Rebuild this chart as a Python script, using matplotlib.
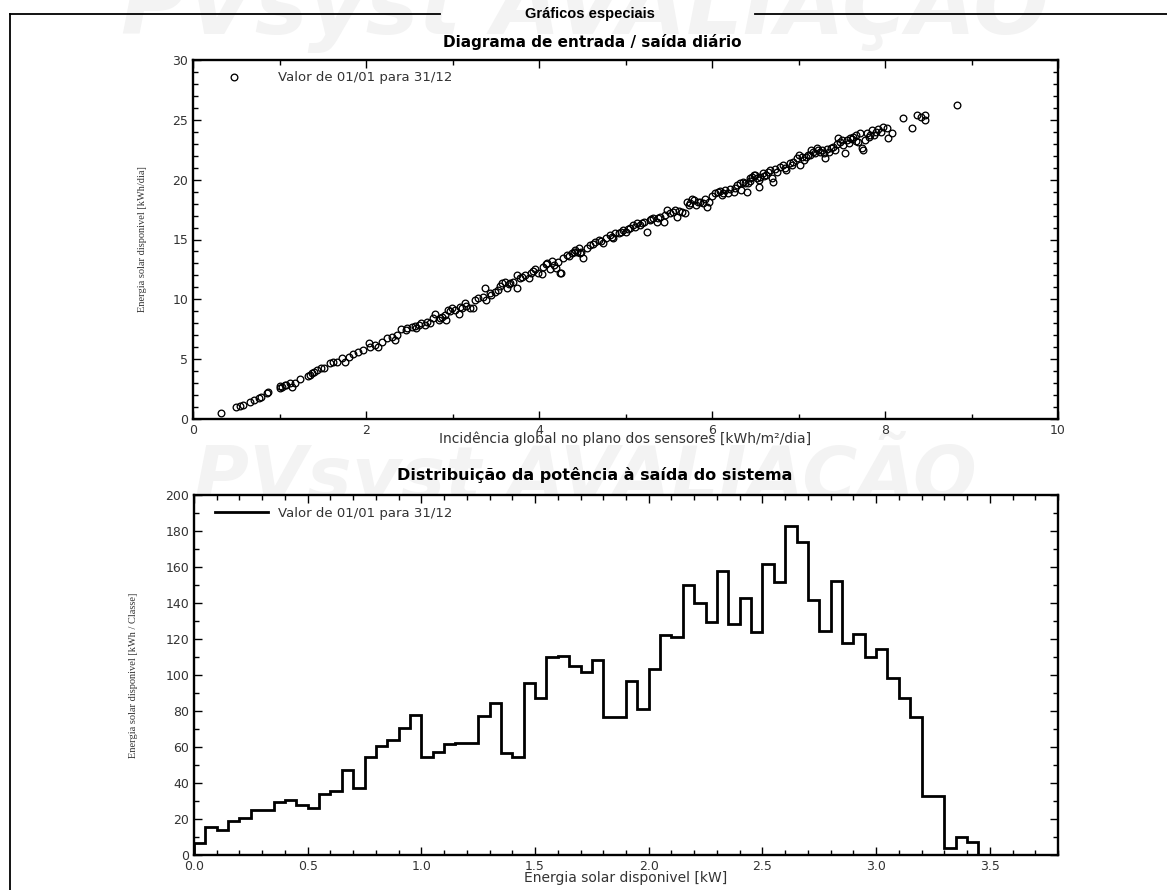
import numpy as np
import matplotlib
matplotlib.use("Agg")
import matplotlib.pyplot as plt
from matplotlib.ticker import MultipleLocator, FormatStrFormatter
from matplotlib.lines import Line2D

# ---------------- data ----------------
daily_incidence = [
    0.32, 0.50, 0.54, 0.58, 0.66, 0.71, 0.76, 0.79, 0.85, 0.87, 1.00, 1.01, 1.03, 1.06, 1.08, 1.12,
    1.14, 1.18, 1.24, 1.33, 1.35, 1.37, 1.40, 1.43, 1.48, 1.51, 1.58, 1.62, 1.66, 1.72, 1.76, 1.80,
    1.85, 1.91, 1.97, 2.03, 2.05, 2.10, 2.14, 2.18,
    2.24, 2.30, 2.34, 2.36, 2.41, 2.47, 2.53, 2.57, 2.61, 2.64, 2.68, 2.74, 2.78, 2.80, 2.84, 2.88,
    2.91, 2.93, 2.95, 2.99, 3.03, 3.07, 3.09, 3.15, 3.16, 3.20, 3.24,
    3.26, 3.30, 3.35, 3.37, 3.39, 3.43, 3.49, 3.53, 3.57, 3.61, 3.63, 3.67, 3.70, 3.74, 3.74, 3.78,
    3.84, 3.88, 3.91, 3.95, 3.99, 4.03, 4.05, 4.09, 4.13, 4.17, 4.20, 4.24, 4.28, 4.32, 4.38, 4.44,
    2.46, 2.58, 2.70, 2.86, 2.97, 3.11, 3.45, 3.55, 3.65, 3.80, 3.93, 4.08, 4.15, 4.22, 4.35,
    4.26, 4.42, 4.46, 4.47, 4.51, 4.49, 4.55, 4.59, 4.65, 4.69, 4.74, 4.78, 4.82, 4.86, 4.88, 4.92,
    4.97, 5.01, 5.05, 5.09, 5.13, 5.17, 5.21, 5.25, 5.28, 5.32, 5.36, 5.40, 5.44, 5.48, 5.52, 5.55,
    5.59, 5.65, 5.69, 5.71, 5.75, 5.79, 5.82, 5.86, 5.90, 5.94, 5.96, 6.03, 6.07, 6.11, 6.15, 6.19,
    6.25, 6.29, 6.32, 6.36, 6.40, 6.42, 6.46, 6.50, 6.54,
    4.40, 4.62, 4.72, 4.84, 4.95, 5.03, 5.11, 5.19, 5.30, 5.38, 5.46, 5.57, 5.62, 5.73, 5.77, 5.84,
    5.92, 6.00, 6.09, 6.13, 6.21, 6.27, 6.44, 6.52,
    6.34, 6.38, 6.44, 6.48, 6.54, 6.56, 6.59, 6.63, 6.67, 6.69, 6.71, 6.75, 6.79, 6.82, 6.86, 6.90,
    6.94, 6.98, 7.00, 7.02, 7.06, 7.09, 7.13, 7.15, 7.19, 7.21, 7.25, 7.29, 7.31, 7.35, 7.38, 7.42,
    7.46, 7.48, 7.52, 7.54, 7.56, 7.60, 7.63, 7.67, 7.69, 7.71, 7.73, 7.75, 7.77, 7.81, 7.85, 7.87,
    7.90, 7.98, 8.02, 8.04, 8.08, 8.21, 8.31, 8.37, 8.42, 8.46, 8.46, 8.83,
    6.60, 6.65, 6.73, 6.84, 6.92, 7.04, 7.11, 7.17, 7.23, 7.27, 7.33, 7.40, 7.44, 7.50, 7.58, 7.62,
    7.66, 7.79, 7.83, 7.92, 7.95,
]
daily_energy = [
    0.47, 1.03, 1.09, 1.17, 1.45, 1.59, 1.73, 1.80, 2.14, 2.23, 2.62, 2.76, 2.70, 2.80, 2.84, 2.98,
    2.70, 2.98, 3.31, 3.62, 3.68, 3.82, 3.95, 4.09, 4.23, 4.29, 4.65, 4.74, 4.79, 5.07, 4.79, 5.21,
    5.43, 5.60, 5.77, 6.32, 6.00, 6.18, 6.04, 6.46,
    6.74, 6.88, 6.60, 7.02, 7.49, 7.58, 7.66, 7.77, 7.86, 8.00, 7.86, 8.05, 8.41, 8.77, 8.27, 8.49,
    8.69, 8.27, 9.11, 9.25, 9.11, 8.77, 9.39, 9.67, 9.44, 9.25, 9.25,
    9.94, 10.08, 10.22, 10.92, 9.94, 10.50, 10.64, 10.78, 11.34, 11.48, 10.92, 11.34, 11.48, 12.03, 10.92, 11.76,
    12.03, 11.76, 12.17, 12.51, 12.17, 12.12, 12.73, 13.01, 12.51, 12.87, 12.59, 12.23, 13.43, 13.71, 13.85, 13.99,
    7.45, 7.62, 8.12, 8.40, 9.00, 9.30, 10.40, 11.15, 11.25, 11.90, 12.35, 12.95, 13.20, 13.10, 13.60,
    12.17, 14.12, 14.26, 13.85, 13.43, 13.99, 14.26, 14.54, 14.82, 14.96, 14.68, 15.10, 15.38, 15.10, 15.52, 15.57,
    15.79, 15.65, 15.93, 16.21, 16.35, 16.21, 16.49, 15.65, 16.63, 16.77, 16.49, 16.91, 16.49, 17.46, 17.19, 17.32,
    16.91, 17.32, 17.19, 18.16, 18.02, 18.30, 17.88, 18.16, 18.02, 17.74, 18.16, 18.86, 19.00, 18.72, 19.14, 18.86,
    19.00, 19.55, 19.69, 19.83, 19.00, 19.69, 20.25, 20.39, 19.97,
    13.95, 14.60, 14.90, 15.25, 15.60, 15.85, 16.05, 16.40, 16.70, 16.80, 17.05, 17.50, 17.40, 17.90, 18.40, 18.10,
    18.35, 18.60, 19.05, 18.90, 19.20, 19.30, 19.90, 20.10,
    19.14, 19.69, 20.11, 20.39, 19.41, 20.25, 20.53, 20.39, 20.81, 20.11, 19.83, 20.67, 21.09, 21.23, 20.81, 21.36,
    21.50, 21.78, 22.06, 21.23, 21.64, 21.92, 22.06, 22.48, 22.20, 22.62, 22.34, 22.20, 21.78, 22.34, 22.62, 22.48,
    23.45, 23.18, 22.90, 22.20, 23.31, 23.45, 23.59, 23.73, 23.18, 23.87, 22.62, 22.48, 23.31, 23.59, 24.15, 23.73,
    24.01, 24.43, 24.29, 23.45, 23.87, 25.12, 24.29, 25.40, 25.26, 24.99, 25.40, 26.23,
    20.30, 20.60, 20.90, 21.00, 21.20, 21.90, 22.10, 22.30, 22.50, 22.45, 22.55, 22.70, 23.00, 23.30, 23.10, 23.40,
    23.25, 23.90, 23.70, 24.20, 23.95,
]

bin_width_kw = 0.05
power_class_energy = [
    6.5, 15.4, 13.9, 18.9, 20.7, 25.0, 25.0, 29.6, 30.5, 27.8, 25.9, 33.7, 35.7, 47.2, 37.0, 54.6,
    60.6, 63.9, 70.7, 77.8, 54.3, 57.0, 61.7, 62.4, 62.4, 77.4, 84.6, 56.5, 54.3, 95.7, 87.0, 109.8,
    110.6, 105.2, 101.9, 108.1, 76.5, 76.9, 96.7, 81.3, 103.1, 122.4, 121.3, 150.0, 139.8, 129.3, 157.8, 128.1,
    143.0, 123.7, 161.5, 151.5, 183.0, 173.7, 141.7, 124.6, 152.4, 118.0, 122.8, 110.2, 114.6, 98.1, 87.4, 76.5,
    32.8, 32.8, 3.7, 10.2, 7.4,
]
bin_edges = np.round(np.arange(len(power_class_energy) + 1) * bin_width_kw, 3)

legend_label = "Valor de 01/01 para 31/12"
section_title = "Gráficos especiais"
title_top = "Diagrama de entrada / saída diário"
title_bottom = "Distribuição da potência à saída do sistema"
xlabel_top = "Incidência global no plano dos sensores [kWh/m²/dia]"
ylabel_top = "Energia solar disponivel [kWh/dia]"
xlabel_bottom = "Energia solar disponivel [kW]"
ylabel_bottom = "Energia solar disponivel [kWh / Classe]"
watermark = "PVsyst AVALIAÇÃO"

# ---------------- figure ----------------
W, H = 1167, 890
fig = plt.figure(figsize=(W / 100, H / 100), dpi=100)
fig.patch.set_facecolor("white")

def fx(px):
    return px / W

def fy(py):
    return 1 - py / H

# faint watermarks (behind the axes)
fig.text(fx(585), fy(34), watermark, ha="center", va="baseline",
         fontsize=64, fontweight="bold", fontstyle="italic",
         family="DejaVu Sans", color="#f3f3f3", zorder=-5)
fig.text(fx(585), fy(500), watermark, ha="center", va="baseline",
         fontsize=54, fontweight="bold", fontstyle="italic",
         family="DejaVu Sans", color="#f3f3f3", zorder=-5)

# outer frame lines
fig.add_artist(Line2D([fx(10), fx(10)], [fy(14), 0], color="black", lw=1.3))
fig.add_artist(Line2D([fx(10), fx(440)], [fy(14), fy(14)], color="black", lw=1.3))
fig.add_artist(Line2D([fx(755), 1.0], [fy(14), fy(14)], color="black", lw=1.3))

fig.text(fx(590), fy(14), section_title, ha="center", va="center",
         fontsize=10.5, fontweight="bold", family="Liberation Sans")
fig.text(fx(592), fy(42), title_top, ha="center", va="center",
         fontsize=11, fontweight="bold", family="DejaVu Sans")
fig.text(fx(595), fy(475), title_bottom, ha="center", va="center",
         fontsize=11.5, fontweight="bold", family="DejaVu Sans")

TICK_SIZE = 9

def style_axes(ax):
    ax.set_facecolor("white")
    for s in ax.spines.values():
        s.set_linewidth(1.7)
    ax.tick_params(which="both", direction="in", top=True, right=True, width=1.0,
                   labelsize=TICK_SIZE, labelcolor="#333333")
    ax.tick_params(which="major", length=6)
    ax.tick_params(which="minor", length=3.5)
    for lab in ax.get_xticklabels() + ax.get_yticklabels():
        lab.set_family("DejaVu Sans")

# ---- top axes: scatter ----
ax1 = fig.add_axes([fx(193), fy(419), fx(1058) - fx(193), fy(60) - fy(419)])
ax1.plot(daily_incidence, daily_energy, linestyle="none", marker="o", ms=4.8,
         mfc="none", mec="black", mew=0.95, label=legend_label)
ax1.set_xlim(0, 10)
ax1.set_ylim(0, 30)
ax1.xaxis.set_major_locator(MultipleLocator(2))
ax1.xaxis.set_minor_locator(MultipleLocator(1))
ax1.yaxis.set_major_locator(MultipleLocator(5))
ax1.yaxis.set_minor_locator(MultipleLocator(1))
style_axes(ax1)
ax1.set_xlabel(xlabel_top, fontsize=10, family="DejaVu Sans", color="#333333")
ax1.set_ylabel(ylabel_top, fontsize=7.5, family="Liberation Serif", color="#333333")
ax1.xaxis.set_label_coords(0.5, -0.036)
ax1.yaxis.set_label_coords(-0.053, 0.5)
leg1 = ax1.legend(loc="upper left", bbox_to_anchor=((221 - 193) / (1058 - 193), 0.968),
                  frameon=False, handlelength=2.0, handletextpad=2.3,
                  borderpad=0, borderaxespad=0, prop={"family": "DejaVu Sans", "size": 9.5})
for t in leg1.get_texts():
    t.set_color("#333333")

# ---- bottom axes: histogram ----
ax2 = fig.add_axes([fx(194), fy(855), fx(1058) - fx(194), fy(495) - fy(855)])
ax2.stairs(power_class_energy, bin_edges, baseline=0, color="black", lw=2.0,
           label=legend_label)
ax2.set_xlim(0, 3.8)
ax2.set_ylim(0, 200)
ax2.xaxis.set_major_locator(MultipleLocator(0.5))
ax2.xaxis.set_minor_locator(MultipleLocator(0.1))
ax2.yaxis.set_major_locator(MultipleLocator(20))
ax2.yaxis.set_minor_locator(MultipleLocator(10))
ax2.xaxis.set_major_formatter(FormatStrFormatter("%.1f"))
style_axes(ax2)
ax2.set_xlabel(xlabel_bottom, fontsize=10, family="DejaVu Sans", color="#333333")
ax2.set_ylabel(ylabel_bottom, fontsize=7.5, family="Liberation Serif", color="#333333")
ax2.xaxis.set_label_coords(0.5, -0.044)
ax2.yaxis.set_label_coords(-0.065, 0.5)
handle = Line2D([], [], color="black", lw=2.0)
leg2 = ax2.legend([handle], [legend_label], loc="upper left",
                  bbox_to_anchor=((215 - 194) / (1058 - 194), 0.968),
                  frameon=False, handlelength=4.0, handletextpad=0.8,
                  borderpad=0, borderaxespad=0, prop={"family": "DejaVu Sans", "size": 9.5})
for t in leg2.get_texts():
    t.set_color("#333333")

fig.savefig("out.png", dpi=100, facecolor="white")
